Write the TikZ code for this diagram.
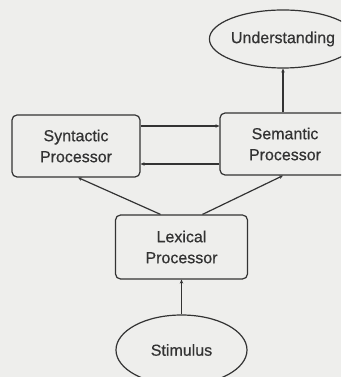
\documentclass[tikz,border=0pt]{standalone}
\usepackage{fontspec}
\setmainfont{Liberation Sans}[FakeBold=0.4]
\newfontfamily\heavyfont{Liberation Sans}[FakeBold=0.5]
\usetikzlibrary{shapes.geometric,arrows.meta}
\definecolor{bg}{HTML}{EEEEEC}
\definecolor{ink}{HTML}{333333}
\tikzset{
  procbox/.style={draw=ink, line width=1.2pt, rounded corners=5pt, fill=bg,
    minimum width=#1, minimum height=62pt, align=center, inner sep=0pt,
    text=ink, font=\heavyfont\fontsize{16}{21}\selectfont},
  oval/.style={draw=ink, line width=1.2pt, ellipse, fill=bg, inner sep=0pt,
    text=ink, font=\heavyfont\fontsize{16}{21}\selectfont},
  arr/.style={draw=ink, line width=1.2pt, -{Stealth[length=4pt,width=3.5pt]}}
}
\begin{document}
\begin{tikzpicture}[x=1pt,y=1pt]
\useasboundingbox (0,0) rectangle (341,377);
\fill[bg] (0,0) rectangle (341,377);
\clip (0,0) rectangle (341,377);
\node[oval, minimum width=132pt, minimum height=58pt] (und) at (283,338) {Understanding};
\node[procbox=130pt] (sem) at (285,233) {Semantic\\Processor};
\node[procbox=128pt] (syn) at (76,231) {Syntactic\\Processor};
\node[procbox=132pt, minimum height=64pt] (lex) at (181.5,130) {Lexical\\Processor};
\node[oval, minimum width=131pt, minimum height=70pt] (stim) at (181.5,27) {Stimulus};
\draw[arr] ([yshift=20pt]syn.east) -- ([yshift=20pt]syn.east -| sem.west);
\draw[arr] ([yshift=-20pt]sem.west) -- ([yshift=-20pt]sem.west -| syn.east);
\draw[arr] (sem.north -| und.south) -- (und.south);
\draw[arr] ([xshift=-21pt]lex.north) -- ([xshift=2pt]syn.south);
\draw[arr] ([xshift=21pt]lex.north) -- ([xshift=-2pt]sem.south);
\draw[arr] (stim.north) -- (lex.south);
\end{tikzpicture}
\end{document}
